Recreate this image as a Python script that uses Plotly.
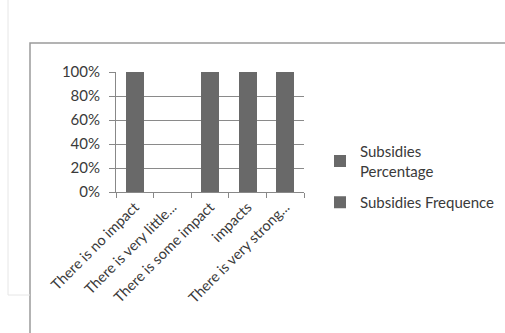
import plotly.graph_objects as go

categories = ["There is no impact", "There is very little...", "There is some impact",
              "impacts", "There is very strong..."]
subsidies_percentage = [20, 0, 40, 30, 10]
subsidies_frequence = [10, 0, 20, 15, 5]
y_ticks = [0, 20, 40, 60, 80, 100]
y_tick_labels = ["0%", "20%", "40%", "60%", "80%", "100%"]

W, H = 505, 333
FONT = "Lato, 'Liberation Sans', sans-serif"
BAR = "#696969"
TXT = "#3a3a3a"

fig = go.Figure()
fig.add_trace(go.Bar(x=categories, y=subsidies_percentage, name="Subsidies<br>Percentage",
                     legendgroup="p", marker=dict(color=BAR, line=dict(width=0))))
fig.add_trace(go.Bar(x=categories, y=subsidies_frequence, name="Subsidies Frequence",
                     legendgroup="f", marker=dict(color=BAR, line=dict(width=0))))

def px_x(v):
    return v / W

def px_y(v):
    return 1 - v / H

fig.update_layout(
    width=W, height=H,
    margin=dict(l=0, r=0, t=0, b=0, autoexpand=False),
    paper_bgcolor="white", plot_bgcolor="white",
    barmode="stack", barnorm="percent", bargap=0.52,
    font=dict(family=FONT, size=14, color=TXT),
    showlegend=True,
    legend=dict(x=px_x(320), y=px_y(135), xanchor="left", yanchor="top",
                traceorder="grouped",
                font=dict(family=FONT, size=15, color=TXT),
                itemwidth=30, tracegroupgap=9, bgcolor="rgba(0,0,0,0)"),
    xaxis=dict(domain=[px_x(116), px_x(304)], range=[-0.5, 4.5],
               tickangle=-45, ticks="outside", tickson="boundaries", ticklen=5,
               tickcolor="#888", showline=True, linecolor="#888", linewidth=1,
               tickfont=dict(family=FONT, size=14.5, color=TXT), showgrid=False),
    yaxis=dict(domain=[px_y(192), px_y(72)], range=[0, 100],
               tickvals=y_ticks, ticktext=y_tick_labels, ticks="outside", ticklen=6,
               ticklabelstandoff=6,
               tickcolor="#888", showline=True, linecolor="#888", linewidth=1,
               showgrid=True, gridcolor="#8a8a8a", gridwidth=1,
               tickfont=dict(family=FONT, size=15, color=TXT), zeroline=False),
    shapes=[
        dict(type="rect", xref="paper", yref="paper", x0=px_x(30), y0=px_y(343),
             x1=px_x(515), y1=px_y(43), line=dict(color="#9a9a9a", width=1.5)),
        dict(type="line", xref="paper", yref="paper", x0=px_x(8), y0=px_y(0),
             x1=px_x(8), y1=px_y(295), line=dict(color="#e6e6e6", width=1)),
        dict(type="line", xref="paper", yref="paper", x0=px_x(8), y0=px_y(295),
             x1=px_x(30), y1=px_y(295), line=dict(color="#e6e6e6", width=1)),
    ],
)

fig.write_html("out.html", config={"displayModeBar": False},
               post_script="document.body.style.margin='0';document.body.style.overflow='hidden';")
